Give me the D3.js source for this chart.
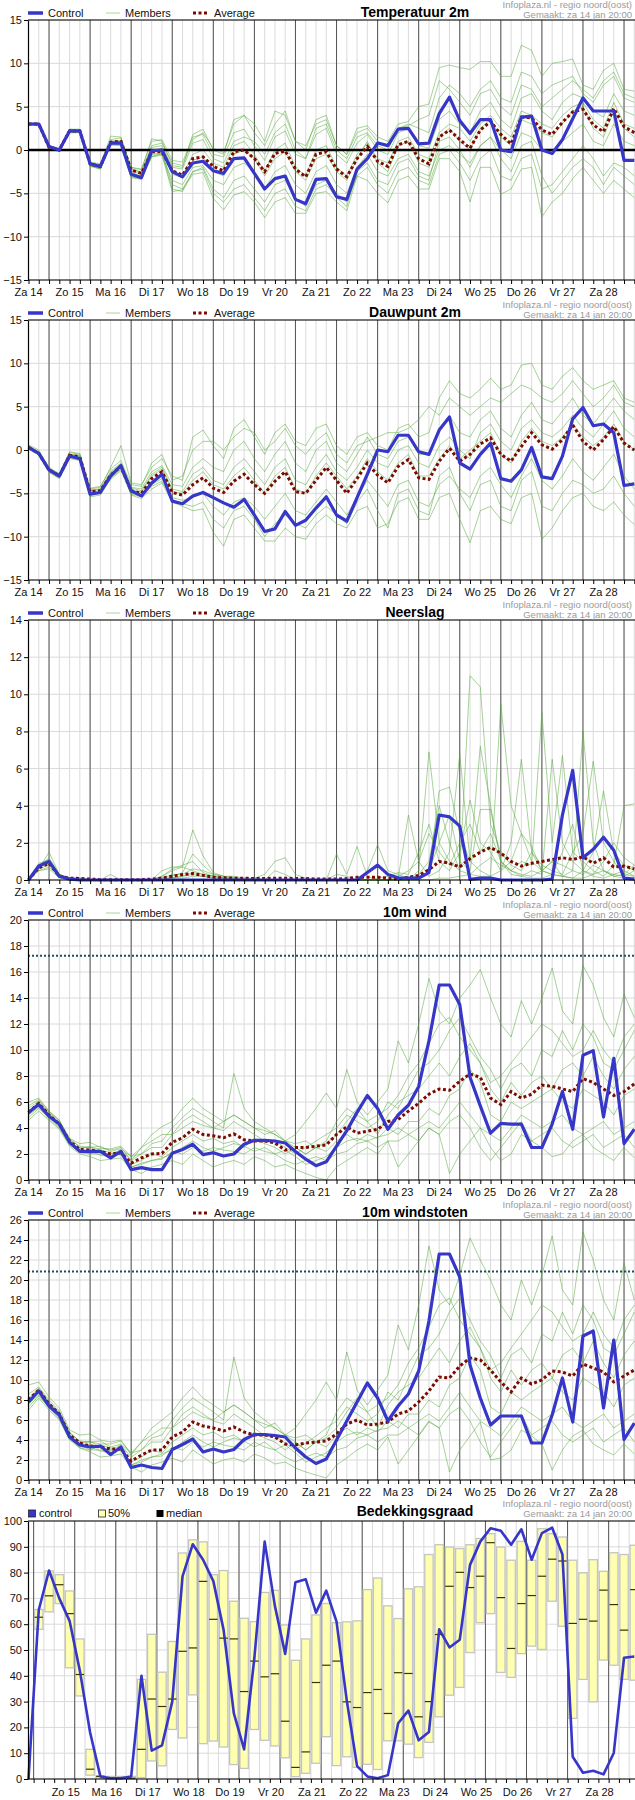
<!DOCTYPE html>
<html>
<head>
<meta charset="utf-8">
<title>Pluimverwachting</title>
<style>
  body { margin: 0; background: #fff; }
  svg text { font-family: "Liberation Sans", Arial, sans-serif; }
</style>
</head>
<body>
<script src="https://cdnjs.cloudflare.com/ajax/libs/d3/7.8.5/d3.min.js"></script>
<script>
// 60 tijdstappen van 6 uur
var steps = d3.range(60);
var dayLabels = ["Za 14", "Zo 15", "Ma 16", "Di 17", "Wo 18", "Do 19", "Vr 20", "Za 21",
                 "Zo 22", "Ma 23", "Di 24", "Wo 25", "Do 26", "Vr 27", "Za 28"];

// Temperatuur 2m
var tempControl = [3.0,3.0,0.4,0.0,2.2,2.2,-1.6,-1.9,0.8,0.8, -2.8,-3.2,-0.1,0.0,-2.5,-3.1,-1.5,-1.3,-2.4,-2.7,
  -1.0,-0.9,-2.7,-4.5,-3.3,-3.0,-5.7,-6.2,-3.4,-3.3, -5.4,-5.7,-2.2,-1.0,0.8,0.5,2.4,2.5,0.7,0.8,
  4.2,6.1,3.4,1.9,3.5,3.5,0.0,-0.2,3.8,3.9, 0.0,-0.4,1.2,3.6,6.0,4.5,4.5,4.5,-1.2,-1.2];
var tempAverage = [3.0,3.0,0.3,0.0,2.2,2.2,-1.6,-1.9,0.9,1.0, -2.3,-2.7,-0.2,-0.2,-2.4,-2.9,-1.0,-0.8,-1.9,-2.4,
  -0.2,0.0,-1.0,-2.5,-0.4,-0.1,-2.2,-3.1,-0.5,-0.2, -2.2,-3.1,-1.0,0.4,-1.3,-1.9,0.6,1.0,-1.0,-1.6,
  1.5,2.3,1.2,0.2,2.3,3.3,1.8,0.7,3.8,3.7, 2.3,1.8,3.2,4.4,4.7,2.9,2.1,4.8,2.7,2.0];
var tempMembers = [
  [3.1,3.1,0.5,0.1,2.4,2.3,-1.5,-1.8,1.0,1.1, -2.2,-2.6,0.5,0.8,-1.5,-1.8,1.2,2.0,0.2,-0.3, 3.0,4.0,2.0,0.5,3.0,4.5,1.0,0.5,3.0,3.5,
   0.5,-0.5,2.5,2.8,1.5,1.0,3.0,3.3,5.0,5.3, 9.5,9.8,9.5,9.3,10.2,10.2,8.5,8.5,12.1,11.5, 8.5,10.0,10.2,10.5,7.5,7.0,9.2,10.0,7.0,6.8],
  [2.9,2.8,0.2,-0.2,2.0,2.0,-1.9,-2.2,0.6,0.6, -3.2,-3.4,-0.8,-0.6,-4.8,-4.6,-2.8,-2.6,-5.6,-6.9, -5.2,-4.8,-6.0,-7.8,-6.0,-5.5,-7.3,-7.3,-5.0,-4.8,
   -6.0,-7.0,-3.0,-3.5,-5.0,-6.1,-3.5,-3.0,-4.5,-4.5, -1.0,-1.0,-2.5,-6.0,-2.0,-2.0,-5.1,-4.5,-2.2,-2.0, -7.7,-6.0,-5.0,-3.3,-2.0,-3.5,-5.0,-3.5,-4.5,-5.5],
  [3.0,3.0,0.4,0.0,2.2,2.1,-1.7,-2.0,1.2,1.4, -2.0,-2.2,1.0,1.2,-1.2,-1.4,1.5,1.8,-0.5,-0.8, 2.0,2.4,0.5,-1.2,1.5,2.2,-0.5,-1.0,1.8,2.5,
   -0.5,-1.5,0.8,1.8,0.0,-0.5,2.0,2.5,0.5,0.2, 3.5,4.5,3.0,2.0,4.5,5.5,3.5,2.5,6.0,6.5, 4.5,3.5,5.5,6.5,6.0,4.5,3.8,6.5,4.5,4.0],
  [3.0,2.9,0.3,-0.1,2.1,2.2,-1.8,-2.1,0.7,0.8, -2.8,-3.0,-0.6,-0.5,-3.5,-4.0,-2.0,-1.8,-3.5,-4.0, -2.0,-1.5,-2.5,-4.5,-2.5,-1.8,-4.0,-5.0,-2.5,-1.8,
   -4.0,-5.0,-2.0,-0.5,-2.5,-3.0,-1.0,-0.5,-2.5,-3.0, 0.0,0.5,-0.5,-1.5,0.5,1.5,0.0,-1.0,2.0,1.5, 0.0,-0.5,1.0,2.0,3.0,1.0,0.5,3.0,1.0,0.5],
  [3.1,3.0,0.3,0.0,2.3,2.2,-1.6,-1.9,0.9,0.9, -2.4,-2.8,-0.2,0.2,-2.5,-3.0,-0.5,0.0,-1.5,-2.0, 0.5,1.0,-0.5,-2.5,0.0,0.8,-2.0,-3.0,0.0,0.5,
   -2.0,-3.0,-0.5,0.8,-1.0,-1.5,1.0,1.5,-0.5,-1.0, 2.0,3.0,2.5,1.0,3.0,4.0,2.5,1.5,4.5,4.0, 3.0,2.5,4.0,5.0,5.5,3.5,2.5,5.5,3.0,2.5],
  [2.9,3.0,0.4,0.1,2.2,2.3,-1.5,-1.7,1.0,1.0, -2.3,-2.5,0.3,0.5,-2.0,-2.2,0.8,1.2,-1.0,-1.5, 1.0,1.5,1.0,-0.5,2.0,3.0,0.0,-1.0,2.5,3.0,
   0.0,-1.0,1.5,2.0,0.5,0.0,2.5,3.0,2.5,2.0, 6.0,7.5,6.5,5.0,7.0,8.0,6.0,5.5,9.0,8.5, 6.5,7.5,8.0,8.5,6.5,5.5,7.5,8.5,6.0,5.5],
  [3.0,3.0,0.3,-0.1,2.1,2.1,-1.8,-2.2,0.7,0.7, -3.0,-3.3,-0.5,-0.3,-4.0,-4.5,-2.5,-2.0,-4.5,-5.5, -3.5,-3.0,-4.5,-6.0,-4.0,-3.5,-5.5,-6.5,-4.0,-3.5,
   -5.0,-6.0,-3.0,-2.0,-4.0,-5.0,-2.5,-2.0,-3.5,-4.0, -0.5,0.0,-1.5,-3.5,-1.0,0.0,-3.0,-3.5,-1.0,-0.5, -4.5,-4.0,-2.5,-1.0,0.5,-1.0,-3.0,-1.5,-2.0,-3.0],
  [3.0,3.1,0.4,0.1,2.2,2.2,-1.6,-1.8,0.9,1.0, -2.6,-3.0,-0.3,0.0,-2.8,-3.2,-1.2,-0.8,-2.5,-3.0, -0.5,0.0,-1.0,-3.0,-1.0,-0.2,-2.5,-3.5,-1.0,-0.5,
   -2.5,-3.5,-1.0,1.0,-1.5,-2.5,0.5,1.0,-1.5,-2.0, 1.5,2.5,1.0,0.0,2.5,3.5,1.5,0.5,3.5,3.0, 2.0,1.5,3.0,4.5,5.0,2.5,1.5,4.5,2.5,1.5],
  [3.0,3.0,0.5,0.2,2.4,2.4,-1.4,-1.6,1.6,1.5, -2.0,-2.3,1.3,1.0,-1.8,-2.0,1.8,2.4,0.0,-0.5, 3.5,4.0,3.0,1.0,4.5,4.0,1.0,0.0,3.5,4.0,
   0.5,-0.5,2.0,2.5,1.0,0.5,2.5,2.8,3.5,4.0, 8.0,7.0,5.5,4.0,6.5,7.0,5.0,4.0,7.5,7.0, 5.0,6.0,7.0,8.0,7.0,6.0,8.0,9.0,6.5,6.0],
  [2.9,2.9,0.2,-0.1,2.0,2.0,-1.8,-2.1,0.6,0.5, -3.1,-3.3,-0.8,-0.4,-4.5,-4.8,-2.5,-2.2,-5.0,-6.0, -4.5,-4.0,-5.5,-7.0,-5.0,-4.5,-6.5,-7.0,-4.5,-4.0,
   -5.5,-6.5,-2.5,-1.5,-3.5,-4.0,-1.5,-1.0,-3.0,-3.5, 1.0,1.5,0.0,-2.0,0.5,1.5,-1.0,-2.5,0.5,1.0, -3.0,-5.0,-3.5,-2.0,-1.0,-2.0,-4.0,-2.0,-3.0,-4.0]
];

// Dauwpunt 2m
var dewControl = [0.3,-0.4,-2.3,-3.0,-0.7,-1.0,-5.1,-4.9,-3.0,-1.8, -4.7,-5.3,-3.8,-2.8,-5.9,-6.2,-5.3,-4.9,-5.5,-6.1,
  -6.6,-5.7,-7.5,-9.4,-9.1,-7.1,-8.7,-8.1,-6.7,-5.4, -7.5,-8.2,-5.5,-2.8,0.0,-0.2,1.7,1.7,-0.2,-0.5,
  2.3,3.8,-1.5,-2.2,-0.5,0.8,-3.3,-3.6,-2.3,0.3, -3.1,-3.3,-0.7,3.6,4.9,2.8,3.0,2.0,-4.1,-3.9];
var dewAverage = [0.3,-0.4,-2.3,-3.0,-0.6,-0.8,-4.8,-4.7,-2.9,-1.9, -4.7,-5.0,-3.3,-2.5,-4.9,-5.2,-4.0,-3.2,-4.4,-4.9,
  -3.6,-2.8,-4.0,-5.0,-3.6,-2.5,-4.8,-5.0,-3.5,-2.0, -3.5,-5.0,-3.3,-1.5,-2.9,-3.8,-1.9,-1.1,-3.2,-3.4,
  -1.3,0.2,-1.3,-0.5,0.7,1.4,-0.5,-1.3,0.4,2.0, 0.6,0.1,1.2,2.9,1.0,0.0,1.2,2.7,0.8,0.0];
var dewMembers = [
  [0.5,-0.2,-2.0,-2.8,-0.3,-0.5,-4.5,-4.3,-2.0,0.5, -3.8,-4.0,-2.0,-1.0,-3.0,-3.5,1.5,2.3,0.5,-1.0, 2.5,3.5,1.5,-0.5,2.0,3.0,1.0,0.5,2.5,3.0,
   0.5,-0.5,1.5,2.0,0.5,0.0,2.5,3.0,1.5,2.0, 6.0,8.0,6.5,6.0,7.0,8.3,7.0,7.5,9.8,10.0, 7.5,7.0,8.5,9.5,8.0,7.0,7.5,8.0,6.0,5.5],
  [0.1,-0.6,-2.6,-3.3,-1.0,-1.2,-5.4,-5.2,-3.3,-2.2, -5.2,-5.6,-4.5,-3.8,-6.0,-6.5,-7.0,-6.8,-9.5,-11.1, -8.0,-7.5,-9.0,-10.5,-10.5,-9.0,-10.0,-10.3,-8.5,-7.5,
   -8.5,-9.0,-7.0,-6.5,-9.0,-8.5,-6.0,-5.5,-8.0,-8.0, -5.5,-5.0,-8.0,-10.7,-7.0,-6.5,-8.0,-8.5,-5.5,-5.0, -10.3,-9.0,-7.0,-5.5,-5.0,-6.5,-7.0,-6.0,-7.5,-8.6],
  [0.4,-0.3,-2.2,-2.9,-0.5,-0.6,-4.7,-4.5,-2.5,-1.5, -4.3,-4.5,-2.5,-1.8,-4.0,-4.2,-2.0,-1.0,-2.0,-2.5, 0.0,1.0,-1.0,-2.5,-0.5,1.0,-1.5,-2.5,0.0,1.0,
   -1.5,-2.5,-0.5,1.5,-0.5,-1.0,1.0,1.5,-0.5,-0.5, 2.5,4.0,2.0,1.5,3.5,4.5,2.5,1.5,4.0,5.5, 3.5,3.0,4.5,6.0,4.0,3.0,4.5,6.0,4.5,3.5],
  [0.2,-0.5,-2.4,-3.1,-0.8,-1.0,-5.0,-4.9,-3.2,-2.2, -5.0,-5.3,-4.0,-3.3,-5.5,-5.8,-5.5,-5.0,-6.5,-7.5, -6.0,-5.5,-6.5,-8.0,-6.5,-5.0,-7.0,-7.5,-6.0,-4.5,
   -6.0,-7.5,-5.5,-3.5,-5.0,-6.5,-4.0,-3.5,-6.0,-6.5, -4.0,-3.0,-4.5,-5.5,-3.0,-2.0,-4.0,-5.5,-3.0,-1.0, -3.5,-4.5,-3.0,-1.0,-2.5,-3.5,-2.0,-0.5,-3.0,-4.5],
  [0.3,-0.4,-2.3,-3.0,-0.6,-0.8,-4.8,-4.7,-2.8,-1.8, -4.6,-4.9,-3.0,-2.2,-4.8,-5.0,-3.5,-2.5,-4.0,-4.5, -3.0,-2.0,-3.5,-5.0,-3.0,-2.0,-4.5,-5.0,-3.0,-1.5,
   -3.0,-4.5,-3.0,-1.0,-2.5,-3.5,-1.5,-0.5,-3.0,-3.0, -1.0,0.5,-1.0,0.0,1.0,2.0,-0.5,-1.5,1.0,2.5, 1.0,0.5,1.5,3.0,1.5,0.5,1.5,3.0,1.0,0.0],
  [0.6,0.0,-2.1,-2.7,-0.2,-0.4,-4.4,-4.2,-2.2,-1.2, -4.0,-4.2,-1.5,-0.5,-3.5,-3.0,0.0,1.0,1.0,0.0, 1.5,2.5,2.0,0.0,1.0,2.5,0.5,-0.5,1.0,2.0,
   -0.5,-1.5,0.5,1.0,1.5,2.0,2.0,2.5,3.5,5.0, 4.0,6.0,5.0,4.0,5.0,6.0,5.5,6.5,7.5,7.0, 6.0,5.5,6.5,8.0,6.5,5.0,6.0,7.5,5.5,5.0],
  [0.2,-0.5,-2.5,-3.2,-0.9,-1.1,-5.2,-5.0,-3.4,-2.4, -5.1,-5.4,-4.2,-3.6,-5.8,-6.2,-6.5,-6.0,-8.0,-9.0, -7.0,-6.5,-8.0,-10.0,-8.5,-7.5,-8.5,-9.0,-7.5,-6.5,
   -7.5,-8.5,-6.0,-4.5,-7.0,-9.0,-5.0,-4.5,-7.0,-7.5, -3.0,-2.0,-5.0,-7.0,-4.0,-3.5,-6.5,-7.0,-3.5,-2.5, -6.5,-7.0,-5.0,-3.5,-4.0,-5.0,-4.5,-3.0,-5.0,-6.5],
  [0.4,-0.3,-2.2,-2.9,-0.5,-0.7,-4.6,-4.5,-2.6,-1.6, -4.4,-4.7,-2.8,-2.0,-4.5,-4.8,-2.8,-2.0,-3.5,-4.0, -2.0,-1.0,-2.5,-4.0,-2.0,-1.0,-3.5,-4.0,-2.0,-0.5,
   -2.5,-3.5,-2.0,0.0,-1.5,-2.0,0.0,0.5,-1.5,-2.0, 0.5,1.5,0.0,-1.0,2.0,3.0,1.0,0.0,2.5,3.5, 2.0,1.5,2.5,4.0,2.5,1.5,3.0,4.5,2.5,1.5]
];

// Neerslag
var rainControl = [0,0.75,1.0,0.2,0.05,0,0,0,0,0, 0,0,0,0,0,0,0,0,0,0, 0,0,0,0,0,0,0,0,0,0,
  0,0,0,0.4,0.8,0.3,0.12,0.1,0.1,0.4, 3.5,3.4,2.9,0.03,0.1,0.1,0,0,0,0, 0,0.05,3.5,5.9,1.2,1.65,2.3,1.6,0.1,0.05];
var rainAverage = [0,0.65,0.9,0.2,0.1,0.08,0.05,0.02,0.02,0.02, 0.02,0.02,0.05,0.1,0.2,0.3,0.35,0.25,0.15,0.12,
  0.1,0.1,0.08,0.08,0.1,0.1,0.08,0.08,0.05,0.05, 0.05,0.08,0.15,0.15,0.15,0.1,0.05,0.15,0.25,0.55,
  1.0,0.9,0.7,1.15,1.5,1.75,1.45,1.0,0.75,0.9, 1.0,1.1,1.2,1.1,1.25,0.9,1.2,0.7,0.75,0.6];
var rainMembers = [
  [0,0.6,1.5,0.3,0.1,0.1,0,0,0,0, 0,0,0,0.2,0.5,0.7,2.7,1.3,0.4,0.2, 0.1,0,0,0,0,0,0,0,0,0,
   0,0,0,0,0,0,0,0,0.5,6.9, 2.0,1.0,0.5,11.0,10.4,3.0,1.5,0.8,0.5,1.5, 0.5,1.0,0.2,0.5,8.0,2.0,0.5,0.3,0.2,0.5],
  [0,0.8,1.0,0.2,0.1,0,0,0,0,0, 0,0,0,0.5,0.7,0.7,0.5,0.3,0.2,0.1, 0,0,0.1,0.3,1.0,1.2,0.3,0.1,0,0,
   0.3,0.2,0,0.5,1.9,0.5,0.3,0.1,0.2,0.4, 4.8,5.0,2.5,1.0,0.5,0.2,9.5,4.0,2.5,1.0, 0.5,0.3,0.2,0.1,0.5,1.5,4.8,1.5,0.8,0.5],
  [0,0.5,0.7,0.2,0.1,0,0,0,0,0, 0,0,0,0,0.2,0.4,1.4,0.8,0.3,0.2, 0.2,0.1,0.1,0,0,0,0,0,0,0,
   1.4,0.3,1.8,0.2,0,0,0.1,3.5,1.0,0.2, 0.5,1.5,6.8,1.0,7.2,4.0,1.0,0.5,1.0,0.8, 9.0,2.0,6.7,1.5,1.0,0.5,0.2,0.8,4.0,4.1],
  [0,0.7,0.9,0.3,0.1,0,0,0,0,0, 0,0,0,0.1,0.3,0.3,0.6,0.5,0.3,0.2, 0.1,0,0,0,0,0,0,0,0,0,
   0,0,0,0,0.1,0.2,0.4,0.3,1.5,3.0, 1.0,0.5,1.5,4.3,2.0,1.5,0.5,2.0,6.5,1.5, 0.8,0.5,0.3,1.5,2.5,6.4,2.0,1.0,0.3,0.2],
  [0,0.9,1.1,0.3,0.1,0.1,0,0,0.3,0, 0,0,0,0,0.1,0.2,0.4,0.3,0.2,0.1, 0.1,0.1,0,0,0.5,0.3,0,0,0,0,
   0,0,0,0,0,0,0,0,0,0.5, 2.0,3.5,1.0,0.5,3.8,3.8,1.0,0.3,0.2,0.5, 0.3,6.5,2.0,1.0,0.5,0.3,1.0,2.0,1.2,0.8],
  [0,0.6,0.8,0.2,0.1,0,0,0,0,0, 0,0,0,0.1,0.1,0.2,0.3,0.2,0.1,0, 0,0,0,0,0,0,0,0,0,0,
   0,0,0,0,0,0,0,0,0.3,1.0, 4.0,2.0,0.5,0.3,0.2,0.2,0.5,1.0,2.5,1.8, 0.5,0.3,1.5,3.0,0.5,0.2,0.1,0.3,0.5,0.2],
  [0,0.5,0.6,0.1,0,0,0,0,0,0, 0,0,0,0,0.1,0.1,0.2,0.2,0.1,0.1, 0,0,0,0,0,0,0,0,0,0,
   0,0,0,0,0,0,0,0,0,0, 0.1,0.1,0.2,0.3,0.8,1.2,0.8,0.5,0.2,0.1, 0.1,0.3,0.2,0.1,0.1,0.3,0.5,0.2,0.1,0.1],
  [0,0.7,1.2,0.3,0.1,0.1,0,0,0,0, 0,0,0,0.2,0.6,0.8,1.0,0.4,0.2,0.1, 0.1,0,0,0,0,0,0,0,0,0,
   0,0,0,0,0,0,0.2,0.5,1.0,2.5, 1.5,0.8,2.0,3.0,1.5,2.5,1.0,0.5,0.3,0.2, 0.5,1.0,0.8,0.5,0.3,0.8,0.5,0.2,0.3,0.8]
];

// 10m wind
var windControl = [5.2,5.8,4.9,4.3,2.9,2.2,2.2,2.2,1.7,2.2, 0.8,0.95,0.8,0.8,2.05,2.35,2.75,1.95,2.1,1.85,
  2.0,2.75,3.05,3.05,3.0,2.85,2.2,1.6,1.1,1.4, 2.6,3.8,5.2,6.5,5.5,3.9,5.0,5.75,7.2,10.7,
  15.0,15.0,13.5,7.9,5.7,3.6,4.35,4.3,4.3,2.5, 2.5,4.3,6.8,3.9,9.6,9.95,4.85,9.35,2.8,3.9];
var windAverage = [5.2,5.9,5.0,4.3,3.0,2.35,2.3,2.2,2.0,2.1, 1.3,1.7,2.0,2.05,2.9,3.25,3.9,3.5,3.4,3.25,
  3.55,3.1,3.0,3.0,2.85,2.3,2.5,2.5,2.6,2.7, 3.5,4.1,3.6,3.75,3.9,4.5,4.65,5.3,5.9,6.6,
  7.0,6.9,7.6,8.15,7.9,6.3,5.8,6.8,6.3,6.6, 7.3,7.2,7.0,6.8,7.8,7.5,7.0,6.5,6.8,7.4];
var windMembers = [
  [6.0,6.3,5.3,4.6,3.2,2.8,2.9,2.5,2.3,2.5, 1.5,2.5,3.5,4.1,4.5,5.5,6.3,5.5,5.0,4.5, 5.0,4.5,4.0,3.8,3.5,3.0,3.5,4.5,5.5,6.7,
   5.5,8.5,6.0,5.0,6.0,7.0,10.7,9.0,12.0,15.5, 13.0,12.0,14.0,15.0,16.2,14.0,12.0,11.0,13.8,12.0, 14.0,16.3,13.0,12.0,16.5,15.0,12.5,11.0,14.3,12.5],
  [4.6,5.3,4.6,3.9,2.6,2.0,1.8,1.5,1.6,1.7, 0.8,0.5,1.0,1.2,1.5,1.2,2.0,1.5,1.0,1.3, 1.5,1.2,1.8,1.5,1.0,1.2,0.8,0.5,0.2,0.0,
   1.0,1.5,2.0,2.5,2.0,3.0,1.0,2.0,3.0,4.0, 3.5,0.5,2.0,3.0,4.0,2.5,1.5,2.0,3.5,3.0, 2.5,1.8,2.0,3.0,3.5,2.5,2.0,1.5,2.5,1.7],
  [5.5,6.1,5.2,4.5,3.2,2.5,2.5,2.6,2.2,2.4, 1.8,2.0,2.5,2.5,3.5,4.5,5.0,4.5,4.0,3.8, 4.5,4.0,3.5,3.0,3.0,2.5,2.0,2.5,3.0,3.5,
   4.0,5.0,4.5,4.0,4.5,6.0,5.5,7.0,8.5,9.0, 10.0,11.5,12.5,11.0,9.5,8.5,7.0,8.5,9.0,8.0, 10.0,9.5,11.5,10.0,12.0,11.0,9.0,8.5,10.0,11.5],
  [5.0,5.8,5.0,4.2,2.9,2.3,2.0,2.3,2.1,1.9, 1.2,1.5,2.0,1.8,2.5,3.0,3.5,3.0,3.2,2.8, 3.0,2.5,3.2,2.8,2.5,2.0,2.5,2.0,2.5,2.2,
   3.0,3.5,3.0,3.5,3.2,4.0,3.5,4.5,4.5,5.5, 5.0,6.5,7.0,8.5,7.5,5.0,4.5,6.0,5.5,6.0, 6.5,7.0,6.0,5.5,7.0,6.5,6.0,5.0,6.5,7.0],
  [5.0,5.6,4.7,4.0,2.7,2.2,2.2,1.9,1.8,2.0, 1.0,1.3,1.5,1.7,2.0,2.5,3.0,2.5,2.2,2.5, 2.8,2.6,2.2,2.5,2.0,2.3,1.8,1.2,1.5,1.8,
   2.5,3.0,3.2,3.0,3.3,3.5,4.0,3.5,4.0,4.5, 4.0,5.0,6.0,5.0,4.0,3.5,3.0,4.0,5.0,4.5, 4.0,4.5,5.0,4.0,3.5,4.0,4.5,3.5,4.0,4.5],
  [5.3,6.0,5.1,4.4,3.0,2.4,2.6,2.1,2.0,2.3, 1.5,2.0,2.8,3.0,4.0,4.8,5.5,5.0,4.5,4.0, 8.2,5.5,4.5,4.0,3.5,3.0,2.8,3.0,2.5,2.8,
   3.5,4.5,5.5,4.5,3.5,5.0,6.0,6.5,7.0,8.0, 9.0,8.0,9.5,10.5,9.0,7.0,6.0,7.5,6.5,7.5, 8.0,7.0,8.5,9.0,8.0,9.5,8.0,7.0,8.5,9.5],
  [4.8,5.5,4.8,4.1,2.8,2.1,2.0,2.0,1.9,2.0, 1.0,1.2,1.5,1.6,2.2,2.0,2.5,2.2,2.5,2.3, 2.2,2.0,2.5,2.2,2.0,1.5,1.2,1.5,1.8,1.5,
   2.0,2.2,2.8,3.0,2.5,3.0,3.0,3.5,3.0,4.0, 3.5,4.5,5.0,4.0,2.5,1.5,2.5,3.5,4.5,3.0, 3.5,4.0,3.0,2.5,3.0,3.5,2.5,3.0,3.5,2.5],
  [5.7,6.2,5.3,4.6,3.1,2.6,2.5,2.4,2.4,2.6, 1.8,2.5,3.0,3.5,3.5,4.0,4.5,4.2,4.0,4.5, 5.0,4.5,4.0,3.5,3.8,3.0,2.5,2.0,2.5,3.0,
   4.5,5.5,5.0,4.5,5.0,5.5,6.5,8.0,9.0,10.5, 12.0,12.5,11.0,10.0,9.0,7.5,8.0,9.0,10.0,11.0, 12.0,11.5,10.5,9.5,10.0,11.5,10.0,9.0,11.0,12.0]
];

// 10m windstoten
var gustControl = [7.8,8.9,7.4,6.5,4.3,3.5,3.3,3.4,2.55,3.3, 1.25,1.5,1.25,1.15,3.05,3.55,4.1,2.8,3.1,2.8,
  3.05,4.05,4.55,4.55,4.45,4.3,3.2,2.3,1.65,2.1, 4.0,5.9,7.8,9.7,8.2,5.9,7.4,8.6,10.9,15.9,
  22.6,22.6,20.3,11.5,8.2,5.5,6.4,6.4,6.4,3.7, 3.7,6.5,10.2,5.8,14.4,14.9,7.2,14.0,4.05,5.7];
var gustAverage = [8.0,9.0,7.6,6.6,4.5,3.7,3.4,3.3,3.1,3.1, 1.9,2.5,3.0,3.0,4.3,4.8,5.8,5.4,5.2,4.9,
  5.3,4.8,4.5,4.5,4.3,3.6,3.5,3.7,3.8,3.9, 4.6,5.6,6.0,5.5,5.6,5.8,6.6,6.9,7.8,8.9,
  10.3,10.2,11.4,12.2,12.0,11.0,9.8,8.8,10.2,9.6, 10.0,10.9,10.8,10.4,11.6,11.2,10.8,9.8,10.4,11.0];
var gustMembers = [
  [9.5,9.8,8.3,7.2,5.0,4.5,4.6,4.0,3.8,4.0, 2.5,3.8,5.2,6.0,6.8,8.2,9.3,8.2,7.5,6.8, 7.5,6.8,6.0,5.6,5.2,4.5,5.2,6.6,8.0,9.8,
   8.0,12.8,9.0,7.5,9.0,10.5,15.5,13.0,17.5,23.4, 19.0,17.5,20.5,24.2,22.0,20.0,17.5,16.0,20.0,17.5, 20.5,24.4,19.0,17.5,24.8,22.0,18.0,16.0,21.7,18.0],
  [7.0,8.2,7.0,6.0,4.0,3.2,2.8,2.3,2.4,2.6, 1.3,0.8,1.5,1.8,2.2,1.8,3.0,2.3,1.6,2.0, 2.2,1.8,2.6,2.2,1.6,1.8,1.2,0.8,0.5,0.2,
   1.5,2.2,3.0,3.6,3.0,4.3,1.6,3.0,4.4,5.8, 5.2,0.8,3.0,4.4,5.8,2.0,2.2,3.0,5.0,4.4, 3.6,1.0,3.0,4.4,5.0,3.6,3.0,2.5,3.6,2.6],
  [8.2,9.2,7.8,6.8,4.8,3.8,3.8,3.9,3.3,3.6, 2.7,3.0,3.8,3.8,5.2,6.6,7.3,6.6,5.9,5.6, 6.6,5.9,5.2,4.4,4.4,3.7,3.0,3.7,4.4,5.2,
   5.9,7.3,6.6,5.9,6.6,8.8,8.0,10.2,12.5,13.2, 14.6,16.8,18.2,16.0,13.9,12.5,10.2,12.5,13.2,11.7, 14.6,13.9,16.8,14.6,17.5,16.0,13.2,12.5,14.6,16.8],
  [7.6,8.8,7.5,6.4,4.4,3.5,3.0,3.5,3.2,2.9, 1.8,2.3,3.0,2.7,3.8,4.5,5.2,4.5,4.8,4.2, 4.5,3.8,4.8,4.2,3.8,3.0,3.8,3.0,3.8,3.3,
   4.5,5.2,4.5,5.2,4.8,5.9,5.2,6.6,6.6,8.0, 7.3,9.5,10.2,12.5,11.0,7.3,6.6,8.8,8.0,8.8, 9.5,10.2,8.8,8.0,10.2,9.5,8.8,7.3,9.5,10.2],
  [7.6,8.5,7.2,6.1,4.1,3.3,3.3,2.9,2.7,3.0, 1.5,2.0,2.3,2.6,3.0,3.8,4.5,3.8,3.3,3.8, 4.2,3.9,3.3,3.8,3.0,3.5,2.7,1.8,2.3,2.7,
   3.8,4.5,4.8,4.5,5.0,5.2,5.9,5.2,5.9,6.6, 5.9,7.3,8.8,7.3,5.9,5.2,4.4,5.9,7.3,6.6, 5.9,6.6,7.3,5.9,5.2,5.9,6.6,5.2,5.9,6.6],
  [8.0,9.0,7.7,6.7,4.5,3.6,3.9,3.2,3.0,3.5, 2.3,3.0,4.2,4.5,6.0,7.2,8.2,7.5,6.8,6.0, 12.3,8.2,6.8,6.0,5.2,4.5,4.2,4.5,3.8,4.2,
   5.2,6.8,8.2,6.8,5.2,7.5,8.8,9.5,10.2,11.7, 13.2,11.7,13.9,15.3,13.2,10.2,8.8,11.0,9.5,11.0, 11.7,10.2,12.5,13.2,11.7,13.9,11.7,10.2,12.5,13.9],
  [7.3,8.4,7.3,6.2,4.2,3.2,3.0,3.0,2.9,3.0, 1.5,1.8,2.3,2.4,3.3,3.0,3.8,3.3,3.8,3.5, 3.3,3.0,3.8,3.3,3.0,2.3,1.8,2.3,2.7,2.3,
   3.0,3.3,4.2,4.5,3.8,4.5,4.5,5.2,4.5,5.9, 5.2,6.6,7.3,5.9,3.8,2.3,3.8,5.2,6.6,4.5, 5.2,5.9,4.5,3.8,4.5,5.2,3.8,4.5,5.2,3.8],
  [8.6,9.3,8.0,6.9,4.7,3.9,3.8,3.6,3.6,3.9, 2.7,3.8,4.5,5.2,5.2,6.0,6.8,6.3,6.0,6.8, 7.5,6.8,6.0,5.2,5.7,4.5,3.8,3.0,3.8,4.5,
   6.8,8.2,7.5,6.8,7.5,8.2,9.5,11.7,13.2,15.3, 17.5,18.2,16.0,14.6,13.2,11.0,11.7,13.2,14.6,16.0, 17.5,16.8,15.3,13.9,14.6,16.8,14.6,13.2,16.0,17.5]
];

// Bedekkingsgraad (%): control, 50%-band (laag/hoog) en mediaan
var cloudControl = [0,65.5,80.8,70,61.3,42,18,1.0,0.3,0.3, 1.0,40,11,13,30,78.5,91,85,76.7,57.8,
  25.4,11.5,47,92,67,48.5,76.3,77.4,64.5,73, 61,30.3,5,1,0.3,1.5,21.6,26.5,15,18.2,
  58,51,54,83,92,97.2,96.2,90.8,96.8,85, 95.3,97.4,87,8.6,2.4,3.2,1.8,10.1,47,47.5];
var cloudLow = [null,58,64.8,68,43.1,32.2,1.5,0.3,0,0, 0,0.5,7,5.1,19.2,15.9,32.6,13.7,14.7,12.4,
  5.6,4.1,19.2,15,12.8,8.2,0.9,2.2,6.1,16.4, 5.2,8.6,4.5,5.7,3.7,14.8,14.8,13.5,8.3,14.2,
  24.1,32.5,35.5,49,60.6,64.1,41.3,39.4,48.6,51.5, 50.2,68.9,59.2,23.5,38.6,29.9,46.1,44.1,38.6,38.3];
var cloudHigh = [null,65.7,80.6,79.2,72.9,54.3,11.5,1.3,1.0,1.0, 1.0,38.6,56.1,41.4,53.3,87.6,92.7,91.9,79.2,80.8,
  68.9,62.3,61,72.3,73.1,59.7,46,54.3,63.6,68, 60.6,60.9,61.3,73.4,77.9,67.1,62.2,73.7,74.5,87,
  90.8,89.9,89.3,90.8,93.2,95.1,89.9,84.8,92.1,84.8, 97,95.1,93.8,84.8,79.9,85,80.5,87.7,87,90.6];
var cloudMedian = [null,62.7,71,75.3,64.1,40.5,3.8,1.0,0.5,0.5, 0.3,11.5,31,28.1,31,49.5,50.8,76.6,61.9,54.6,
  54.3,33.9,45.7,39.6,40.8,22.4,4.5,10.5,37.4,44.1, 45.7,29.9,27.7,33.5,34.7,25.4,41.2,40.9,24.1,30,
  56,74.7,80.1,74.2,78.6,91.6,70.3,50.6,68,71.1, 78.6,85.2,84.5,60.3,61.9,61.2,73.2,67.6,57.7,73.4];

var W = 635, H = 1800;
var svg = d3.select("body").append("svg").attr("width", W).attr("height", H);

var x = d3.scaleLinear().domain([0, 59]).range([28.5, 28.5 + 59 * 10.268]);
var left = 28, right = W;

var blue = "#3636c8", avgRed = "#7a0c00", memberGreen = "#55a83a";

var panels = [
  {title: "Temperatuur 2m", top: 20, bottom: 280, domain: [-15, 15], ticks: d3.range(-15, 16, 5),
   control: tempControl, average: tempAverage, members: tempMembers, zero: true},
  {title: "Dauwpunt 2m", top: 320, bottom: 580, domain: [-15, 15], ticks: d3.range(-15, 16, 5),
   control: dewControl, average: dewAverage, members: dewMembers},
  {title: "Neerslag", top: 620, bottom: 880, domain: [0, 14], ticks: d3.range(0, 15, 2),
   control: rainControl, average: rainAverage, members: rainMembers},
  {title: "10m wind", top: 920, bottom: 1180, domain: [0, 20], ticks: d3.range(0, 21, 2),
   control: windControl, average: windAverage, members: windMembers, limit: 17.25},
  {title: "10m windstoten", top: 1220, bottom: 1480, domain: [0, 26], ticks: d3.range(0, 27, 2),
   control: gustControl, average: gustAverage, members: gustMembers, limit: 20.85}
];

function header(g, p) {
  g.append("text").attr("x", 415).attr("y", p.top - 3).attr("text-anchor", "middle")
    .attr("font-size", 14).attr("font-weight", "bold").attr("fill", "#000").text(p.title);
  g.append("text").attr("x", 632).attr("y", p.top - 12).attr("text-anchor", "end")
    .attr("font-size", 9.5).attr("fill", "#9a9a9a").text("Infoplaza.nl - regio noord(oost)");
  g.append("text").attr("x", 632).attr("y", p.top - 2.5).attr("text-anchor", "end")
    .attr("font-size", 9.5).attr("fill", "#9a9a9a").text("Gemaakt: za 14 jan 20:00");
}

function axes(g, p, y, tickPos) {
  var ya = g.append("g").attr("transform", "translate(" + left + ",0)")
    .call(d3.axisLeft(y).tickValues(p.ticks).tickSize(4).tickSizeOuter(0).tickPadding(2));
  var xa = g.append("g").attr("transform", "translate(0," + p.bottom + ")")
    .call(d3.axisBottom(x).tickValues(tickPos).tickSize(4).tickSizeOuter(0).tickFormat(""));
  [ya, xa].forEach(function (a) {
    a.select(".domain").attr("stroke", "#000").attr("stroke-width", 1.2);
    a.selectAll(".tick line").attr("stroke", "#000");
    a.selectAll("text").attr("font-size", 11).attr("fill", "#111")
      .attr("font-family", "Liberation Sans, Arial, sans-serif");
  });
  xa.select(".domain").attr("d", "M" + left + ",0H" + right);
  g.append("line").attr("x1", left).attr("x2", right).attr("y1", p.top).attr("y2", p.top)
    .attr("stroke", "#000").attr("stroke-width", 1.2);
}

function drawLinePanel(p) {
  var g = svg.append("g");
  var y = d3.scaleLinear().domain(p.domain).range([p.bottom, p.top]);

  g.selectAll(null).data(p.ticks).enter().append("line")
    .attr("x1", left).attr("x2", right).attr("y1", y).attr("y2", y)
    .attr("stroke", "#dadada");
  g.selectAll(null).data(steps).enter().append("line")
    .attr("x1", x).attr("x2", x).attr("y1", p.top).attr("y2", p.bottom)
    .attr("stroke", "#dadada");
  g.selectAll(null).data(d3.range(15)).enter().append("line")
    .attr("x1", function (d) { return x(2 + 4 * d); }).attr("x2", function (d) { return x(2 + 4 * d); })
    .attr("y1", p.top).attr("y2", p.bottom).attr("stroke", "#555");

  var line = d3.line().x(function (d, i) { return x(i); }).y(function (d) { return y(d); });

  g.selectAll(null).data(p.members).enter().append("path")
    .attr("d", line).attr("fill", "none").attr("stroke", memberGreen)
    .attr("stroke-opacity", 0.52).attr("stroke-width", 1);

  if (p.zero) {
    g.append("line").attr("x1", left).attr("x2", right).attr("y1", y(0)).attr("y2", y(0))
      .attr("stroke", "#000").attr("stroke-width", 2.5);
  }

  g.append("path").datum(p.average).attr("d", line).attr("fill", "none")
    .attr("stroke", avgRed).attr("stroke-width", 3).attr("stroke-dasharray", "3,2.5");
  g.append("path").datum(p.control).attr("d", line).attr("fill", "none")
    .attr("stroke", blue).attr("stroke-width", 3.2).attr("stroke-linejoin", "round");

  if (p.limit != null) {
    g.append("line").attr("x1", left).attr("x2", right).attr("y1", y(p.limit)).attr("y2", y(p.limit))
      .attr("stroke", "#1f4f55").attr("stroke-width", 2).attr("stroke-dasharray", "2,2");
  }

  axes(g, p, y, steps);

  // dagen
  g.selectAll(null).data(dayLabels).enter().append("text")
    .attr("x", function (d, i) { return x(4 * i); }).attr("y", p.bottom + 16)
    .attr("text-anchor", "middle").attr("font-size", 11).attr("fill", "#111")
    .text(function (d) { return d; });

  // legenda
  var ly = p.top - 7;
  g.append("line").attr("x1", 28).attr("x2", 43).attr("y1", ly).attr("y2", ly)
    .attr("stroke", blue).attr("stroke-width", 3.5);
  g.append("text").attr("x", 48).attr("y", ly + 4).attr("font-size", 11).attr("fill", "#111").text("Control");
  g.append("line").attr("x1", 106).attr("x2", 120).attr("y1", ly).attr("y2", ly)
    .attr("stroke", "#a9d69a").attr("stroke-width", 1);
  g.append("text").attr("x", 125).attr("y", ly + 4).attr("font-size", 11).attr("fill", "#111").text("Members");
  g.append("line").attr("x1", 193).attr("x2", 207).attr("y1", ly).attr("y2", ly)
    .attr("stroke", avgRed).attr("stroke-width", 3).attr("stroke-dasharray", "3,2.5");
  g.append("text").attr("x", 214).attr("y", ly + 4).attr("font-size", 11).attr("fill", "#111").text("Average");

  header(g, p);
}

panels.forEach(drawLinePanel);

// Bedekkingsgraad
(function () {
  var p = {title: "Bedekkingsgraad", top: 1521, bottom: 1779, ticks: d3.range(0, 101, 10)};
  var g = svg.append("g");
  var y = d3.scaleLinear().domain([0, 100]).range([p.bottom, p.top]);
  var half = d3.range(60).map(function (k) { return k + 0.5; });

  g.selectAll(null).data(p.ticks).enter().append("line")
    .attr("x1", left).attr("x2", right).attr("y1", y).attr("y2", y).attr("stroke", "#dadada");
  g.selectAll(null).data(half).enter().append("line")
    .attr("x1", x).attr("x2", x).attr("y1", p.top).attr("y2", p.bottom).attr("stroke", "#dadada");
  g.selectAll(null).data(d3.range(15)).enter().append("line")
    .attr("x1", function (d) { return x(0.5 + 4 * d); }).attr("x2", function (d) { return x(0.5 + 4 * d); })
    .attr("y1", p.top).attr("y2", p.bottom).attr("stroke", "#555");

  var bars = steps.filter(function (k) { return cloudLow[k] != null; });
  g.selectAll(null).data(bars).enter().append("rect")
    .attr("x", function (k) { return x(k) - 4.2; }).attr("width", 8.4)
    .attr("y", function (k) { return y(cloudHigh[k]); })
    .attr("height", function (k) { return Math.max(1, y(cloudLow[k]) - y(cloudHigh[k])); })
    .attr("fill", "#ffffb0").attr("stroke", "#c4c4c4").attr("stroke-width", 1.3);
  g.selectAll(null).data(bars).enter().append("line")
    .attr("x1", function (k) { return x(k) - 4.2; }).attr("x2", function (k) { return x(k) + 4.2; })
    .attr("y1", function (k) { return y(cloudMedian[k]); }).attr("y2", function (k) { return y(cloudMedian[k]); })
    .attr("stroke", "#3a3200").attr("stroke-width", 1.2);

  var line = d3.line().x(function (d, i) { return x(i); }).y(function (d) { return y(d); });
  g.append("path").datum(cloudControl).attr("d", line).attr("fill", "none")
    .attr("stroke", blue).attr("stroke-width", 2.6).attr("stroke-linejoin", "round");

  axes(g, p, y, half);

  g.selectAll(null).data(dayLabels.slice(1)).enter().append("text")
    .attr("x", function (d, i) { return x(0.5 + 4 * (i + 1)) - 9; }).attr("y", p.bottom + 17)
    .attr("text-anchor", "middle").attr("font-size", 11).attr("fill", "#111")
    .text(function (d) { return d; });

  // legenda
  var ly = p.top - 11;
  g.append("rect").attr("x", 28.5).attr("y", ly).attr("width", 7).attr("height", 7)
    .attr("fill", blue).attr("stroke", "#222").attr("stroke-width", 0.8);
  g.append("text").attr("x", 39).attr("y", ly + 7).attr("font-size", 11).attr("fill", "#111").text("control");
  g.append("rect").attr("x", 98.5).attr("y", ly).attr("width", 7).attr("height", 7)
    .attr("fill", "#ffffb0").attr("stroke", "#222").attr("stroke-width", 0.8);
  g.append("text").attr("x", 108).attr("y", ly + 7).attr("font-size", 11).attr("fill", "#111").text("50%");
  g.append("rect").attr("x", 156.5).attr("y", ly).attr("width", 7).attr("height", 7)
    .attr("fill", "#000");
  g.append("text").attr("x", 166).attr("y", ly + 7).attr("font-size", 11).attr("fill", "#111").text("median");

  header(g, {title: p.title, top: p.top - 2});
})();
</script>
</body>
</html>
